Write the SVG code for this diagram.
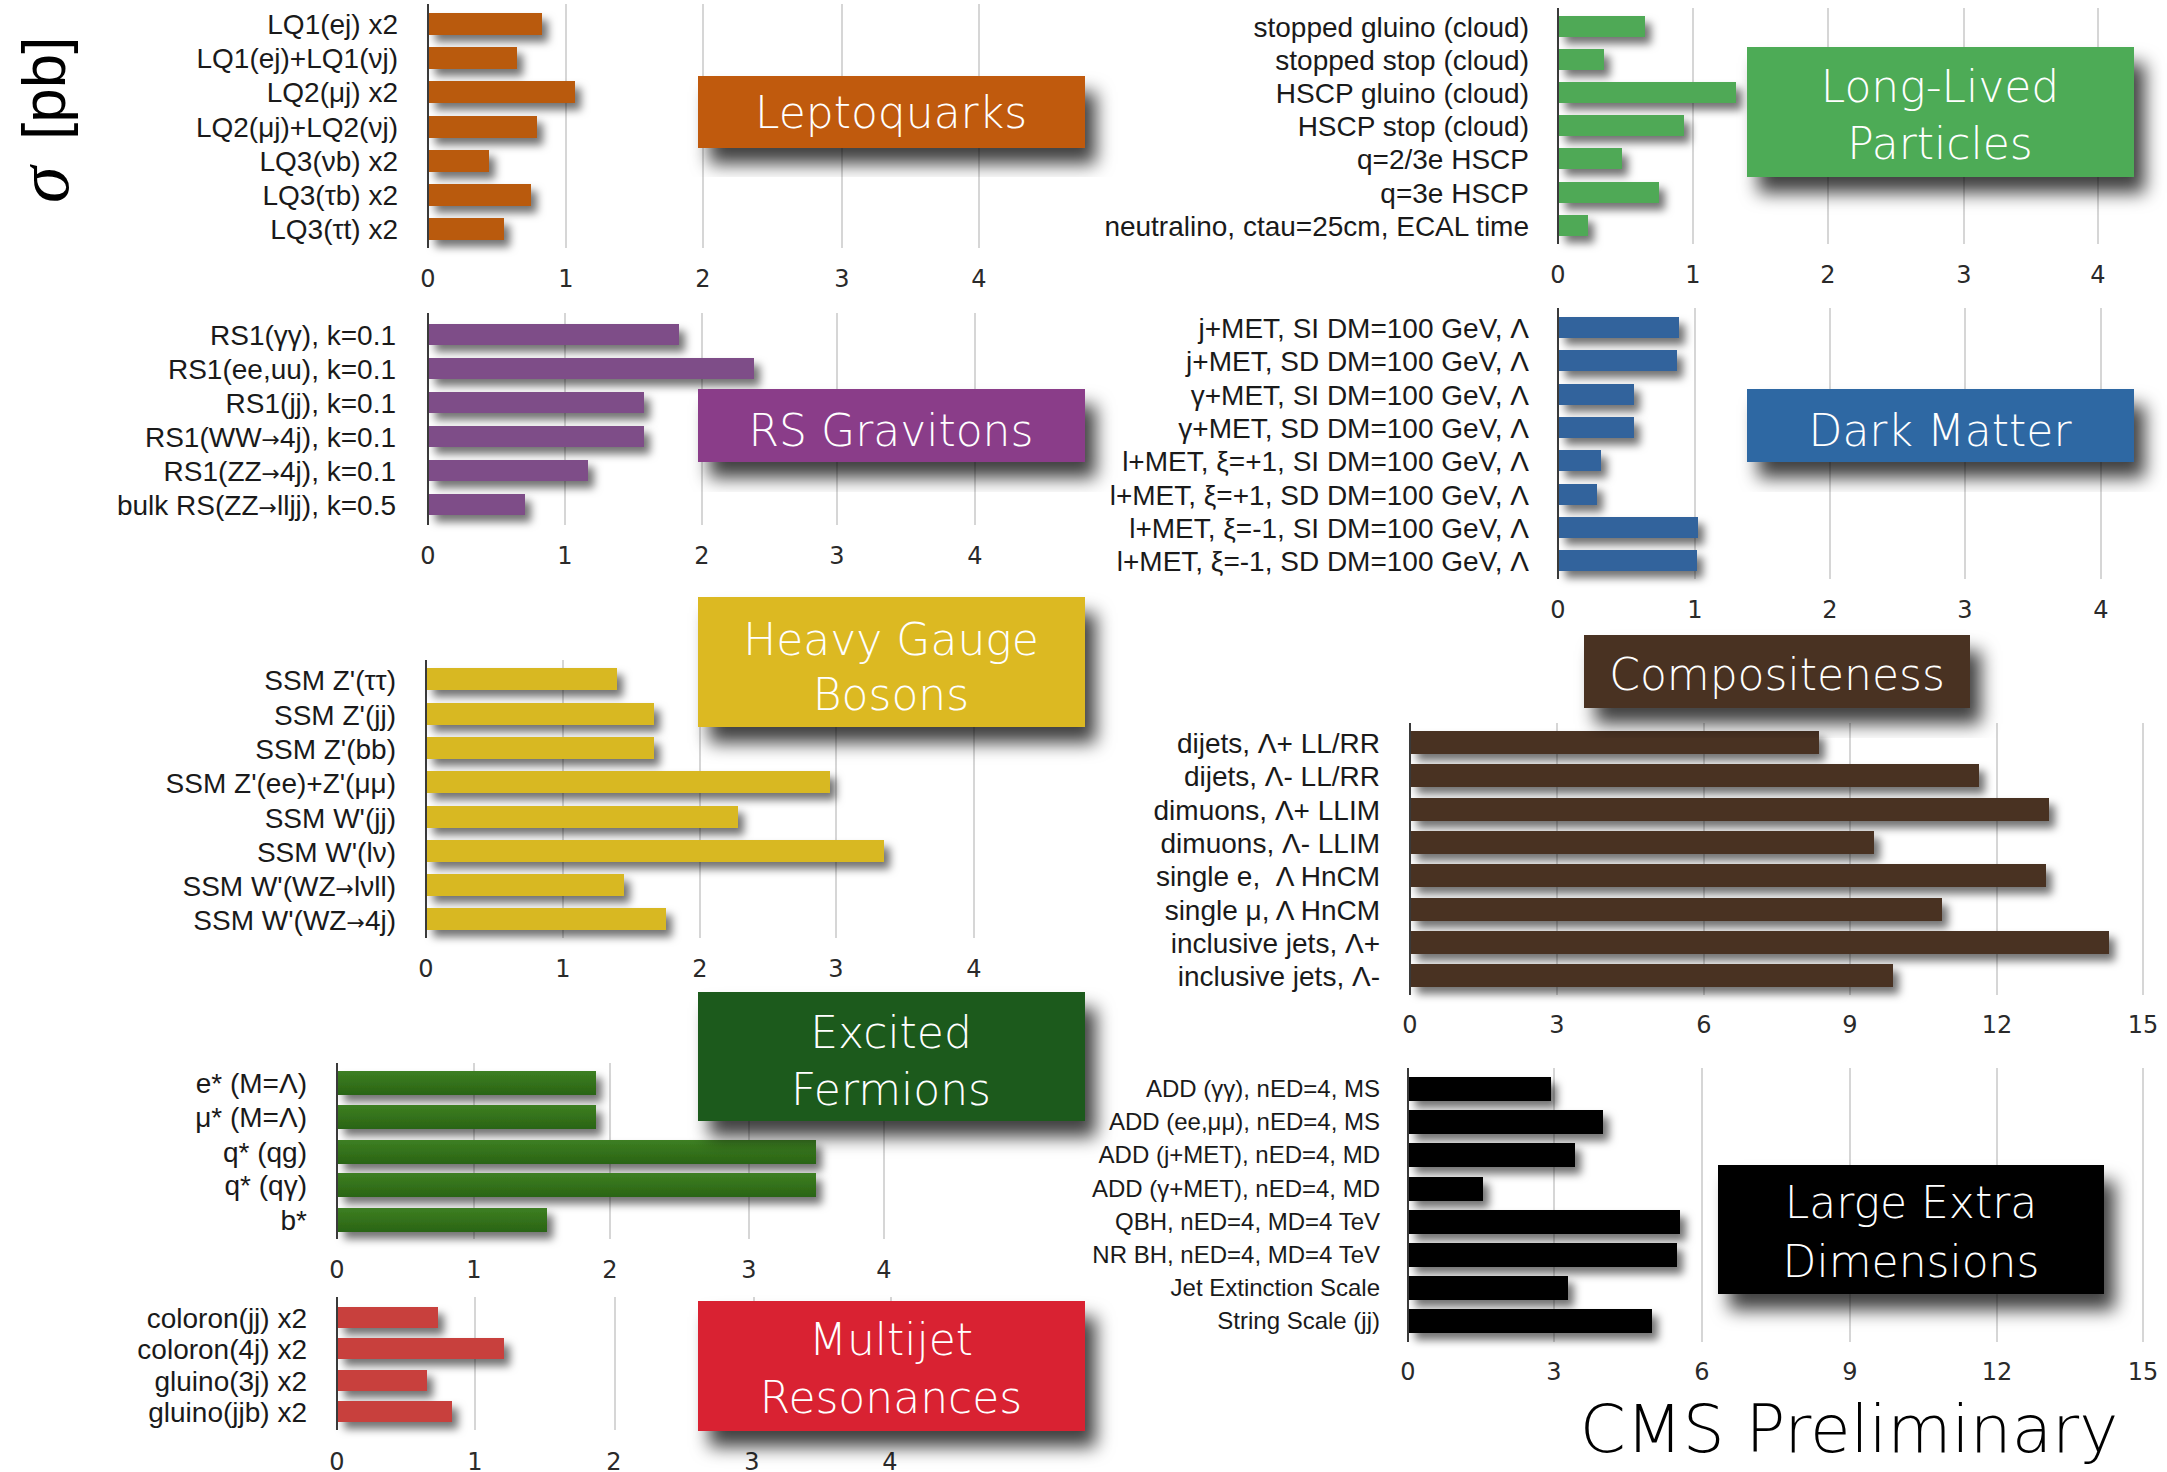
<svg xmlns="http://www.w3.org/2000/svg" width="2167" height="1472" viewBox="0 0 2167 1472">
<defs>
<style>
.lbl{font-family:'Liberation Sans',Arial,sans-serif;font-size:28px;fill:#1a1a1a;text-anchor:end}
.lbl2{font-family:'Liberation Sans',Arial,sans-serif;font-size:24px;fill:#1a1a1a;text-anchor:end}
.ar{font-family:'DejaVu Sans',sans-serif;font-size:22px}
.tick{font-family:'DejaVu Sans',sans-serif;font-size:24px;fill:#2a2a2a;text-anchor:middle}
.grid{stroke:#c9c9c9;stroke-width:1.5}
.axis{stroke:#3a3a3a;stroke-width:2}
.ttl{font-family:'DejaVu Sans',sans-serif;font-weight:300;font-size:44px;fill:#fff;text-anchor:middle}
.bar{filter:url(#bsh)}
.box{filter:url(#tsh)}
</style>
<filter id="bsh" x="-10%" y="-60%" width="200%" height="300%">
<feDropShadow dx="6" dy="7" stdDeviation="4.5" flood-color="#000" flood-opacity="0.55"/>
</filter>
<filter id="tsh" x="-10%" y="-20%" width="130%" height="160%">
<feDropShadow dx="11" dy="16" stdDeviation="9" flood-color="#000" flood-opacity="0.75"/>
</filter>
<linearGradient id="efg" x1="0" y1="0" x2="0" y2="1">
<stop offset="0" stop-color="#3d7f22"/><stop offset="1" stop-color="#2a6414"/>
</linearGradient>
</defs>
<rect width="2167" height="1472" fill="#fff"/>

<g id="ylabel">
<text transform="translate(68,203) rotate(-90)" style="font-family:'Liberation Serif',serif;font-style:italic;font-size:74px;fill:#000">σ</text>
<text transform="translate(65,140) rotate(-90)" style="font-family:'Liberation Sans',Arial,sans-serif;font-size:62px;fill:#000">[pb]</text>
</g>

<g id="leptoquarks">
<g class="grid"><line x1="566" y1="4" x2="566" y2="248"/><line x1="703" y1="4" x2="703" y2="248"/><line x1="842" y1="4" x2="842" y2="248"/><line x1="979" y1="4" x2="979" y2="248"/></g>
<g fill="#b95a0b">
<rect class="bar" x="429" y="13" width="113" height="22"/>
<rect class="bar" x="429" y="47" width="88" height="22"/>
<rect class="bar" x="429" y="81" width="146" height="22"/>
<rect class="bar" x="429" y="116" width="108" height="22"/>
<rect class="bar" x="429" y="150" width="60" height="22"/>
<rect class="bar" x="429" y="184" width="102" height="22"/>
<rect class="bar" x="429" y="218" width="75" height="22"/>
</g>
<line class="axis" x1="428" y1="4" x2="428" y2="248"/>
<text class="lbl" x="398" y="34">LQ1(ej) x2</text>
<text class="lbl" x="398" y="68">LQ1(ej)+LQ1(νj)</text>
<text class="lbl" x="398" y="102">LQ2(μj) x2</text>
<text class="lbl" x="398" y="137">LQ2(μj)+LQ2(νj)</text>
<text class="lbl" x="398" y="171">LQ3(νb) x2</text>
<text class="lbl" x="398" y="205">LQ3(τb) x2</text>
<text class="lbl" x="398" y="239">LQ3(τt) x2</text>
<text class="tick" x="428" y="287">0</text><text class="tick" x="566" y="287">1</text><text class="tick" x="703" y="287">2</text><text class="tick" x="842" y="287">3</text><text class="tick" x="979" y="287">4</text>
<rect class="box" x="698" y="76" width="387" height="72" fill="#c05a0e"/>
<text class="ttl" x="891" y="128">Leptoquarks</text>
</g>

<g id="long-lived">
<g class="grid"><line x1="1693" y1="8" x2="1693" y2="244"/><line x1="1828" y1="8" x2="1828" y2="244"/><line x1="1964" y1="8" x2="1964" y2="244"/><line x1="2098" y1="8" x2="2098" y2="244"/></g>
<g fill="#4fa957">
<rect class="bar" x="1559" y="16" width="86" height="21"/>
<rect class="bar" x="1559" y="49" width="45" height="21"/>
<rect class="bar" x="1559" y="82" width="177" height="21"/>
<rect class="bar" x="1559" y="115" width="125" height="21"/>
<rect class="bar" x="1559" y="148" width="63" height="21"/>
<rect class="bar" x="1559" y="182" width="100" height="21"/>
<rect class="bar" x="1559" y="215" width="29" height="21"/>
</g>
<line class="axis" x1="1558" y1="8" x2="1558" y2="244"/>
<text class="lbl" x="1529" y="37">stopped gluino (cloud)</text>
<text class="lbl" x="1529" y="70">stopped stop (cloud)</text>
<text class="lbl" x="1529" y="103">HSCP gluino (cloud)</text>
<text class="lbl" x="1529" y="136">HSCP stop (cloud)</text>
<text class="lbl" x="1529" y="169">q=2/3e HSCP</text>
<text class="lbl" x="1529" y="203">q=3e HSCP</text>
<text class="lbl" x="1529" y="236">neutralino, ctau=25cm, ECAL time</text>
<text class="tick" x="1558" y="283">0</text><text class="tick" x="1693" y="283">1</text><text class="tick" x="1828" y="283">2</text><text class="tick" x="1964" y="283">3</text><text class="tick" x="2098" y="283">4</text>
<rect class="box" x="1747" y="47" width="387" height="130" fill="#4dab56"/>
<text class="ttl" x="1940" y="102">Long-Lived</text>
<text class="ttl" x="1940" y="159">Particles</text>
</g>

<g id="rs-gravitons">
<g class="grid"><line x1="565" y1="313" x2="565" y2="525"/><line x1="702" y1="313" x2="702" y2="525"/><line x1="837" y1="313" x2="837" y2="525"/><line x1="975" y1="313" x2="975" y2="525"/></g>
<g fill="#7e4e88">
<rect class="bar" x="429" y="324" width="250" height="21"/>
<rect class="bar" x="429" y="358" width="325" height="21"/>
<rect class="bar" x="429" y="392" width="215" height="21"/>
<rect class="bar" x="429" y="426" width="215" height="21"/>
<rect class="bar" x="429" y="460" width="159" height="21"/>
<rect class="bar" x="429" y="494" width="96" height="21"/>
</g>
<line class="axis" x1="428" y1="313" x2="428" y2="525"/>
<text class="lbl" x="396" y="345">RS1(γγ), k=0.1</text>
<text class="lbl" x="396" y="379">RS1(ee,uu), k=0.1</text>
<text class="lbl" x="396" y="413">RS1(jj), k=0.1</text>
<text class="lbl" x="396" y="447">RS1(WW<tspan class="ar">→</tspan>4j), k=0.1</text>
<text class="lbl" x="396" y="481">RS1(ZZ<tspan class="ar">→</tspan>4j), k=0.1</text>
<text class="lbl" x="396" y="515">bulk RS(ZZ<tspan class="ar">→</tspan>lljj), k=0.5</text>
<text class="tick" x="428" y="564">0</text><text class="tick" x="565" y="564">1</text><text class="tick" x="702" y="564">2</text><text class="tick" x="837" y="564">3</text><text class="tick" x="975" y="564">4</text>
<rect class="box" x="698" y="389" width="387" height="73" fill="#8a3e89"/>
<text class="ttl" x="891" y="446">RS Gravitons</text>
</g>

<g id="dark-matter">
<g class="grid"><line x1="1695" y1="308" x2="1695" y2="579"/><line x1="1830" y1="308" x2="1830" y2="579"/><line x1="1965" y1="308" x2="1965" y2="579"/><line x1="2101" y1="308" x2="2101" y2="579"/></g>
<g fill="#33649c">
<rect class="bar" x="1559" y="317" width="120" height="21"/>
<rect class="bar" x="1559" y="350" width="118" height="21"/>
<rect class="bar" x="1559" y="384" width="75" height="21"/>
<rect class="bar" x="1559" y="417" width="75" height="21"/>
<rect class="bar" x="1559" y="450" width="42" height="21"/>
<rect class="bar" x="1559" y="484" width="38" height="21"/>
<rect class="bar" x="1559" y="517" width="139" height="21"/>
<rect class="bar" x="1559" y="550" width="138" height="21"/>
</g>
<line class="axis" x1="1558" y1="308" x2="1558" y2="579"/>
<text class="lbl" x="1529" y="338">j+MET, SI DM=100 GeV, Λ</text>
<text class="lbl" x="1529" y="371">j+MET, SD DM=100 GeV, Λ</text>
<text class="lbl" x="1529" y="405">γ+MET, SI DM=100 GeV, Λ</text>
<text class="lbl" x="1529" y="438">γ+MET, SD DM=100 GeV, Λ</text>
<text class="lbl" x="1529" y="471">l+MET, ξ=+1, SI DM=100 GeV, Λ</text>
<text class="lbl" x="1529" y="505">l+MET, ξ=+1, SD DM=100 GeV, Λ</text>
<text class="lbl" x="1529" y="538">l+MET, ξ=-1, SI DM=100 GeV, Λ</text>
<text class="lbl" x="1529" y="571">l+MET, ξ=-1, SD DM=100 GeV, Λ</text>
<text class="tick" x="1558" y="618">0</text><text class="tick" x="1695" y="618">1</text><text class="tick" x="1830" y="618">2</text><text class="tick" x="1965" y="618">3</text><text class="tick" x="2101" y="618">4</text>
<rect class="box" x="1747" y="389" width="387" height="73" fill="#2f68a3"/>
<text class="ttl" x="1940" y="446">Dark Matter</text>
</g>

<g id="heavy-gauge-bosons">
<g class="grid"><line x1="563" y1="660" x2="563" y2="938"/><line x1="700" y1="660" x2="700" y2="938"/><line x1="836" y1="660" x2="836" y2="938"/><line x1="974" y1="660" x2="974" y2="938"/></g>
<g fill="#d8b820">
<rect class="bar" x="427" y="668" width="190" height="22"/>
<rect class="bar" x="427" y="703" width="227" height="22"/>
<rect class="bar" x="427" y="737" width="227" height="22"/>
<rect class="bar" x="427" y="771" width="403" height="22"/>
<rect class="bar" x="427" y="806" width="311" height="22"/>
<rect class="bar" x="427" y="840" width="457" height="22"/>
<rect class="bar" x="427" y="874" width="197" height="22"/>
<rect class="bar" x="427" y="908" width="239" height="22"/>
</g>
<line class="axis" x1="426" y1="660" x2="426" y2="938"/>
<text class="lbl" x="396" y="690">SSM Z'(ττ)</text>
<text class="lbl" x="396" y="725">SSM Z'(jj)</text>
<text class="lbl" x="396" y="759">SSM Z'(bb)</text>
<text class="lbl" x="396" y="793">SSM Z'(ee)+Z'(μμ)</text>
<text class="lbl" x="396" y="828">SSM W'(jj)</text>
<text class="lbl" x="396" y="862">SSM W'(lν)</text>
<text class="lbl" x="396" y="896">SSM W'(WZ<tspan class="ar">→</tspan>lνll)</text>
<text class="lbl" x="396" y="930">SSM W'(WZ<tspan class="ar">→</tspan>4j)</text>
<text class="tick" x="426" y="977">0</text><text class="tick" x="563" y="977">1</text><text class="tick" x="700" y="977">2</text><text class="tick" x="836" y="977">3</text><text class="tick" x="974" y="977">4</text>
<rect class="box" x="698" y="597" width="387" height="130" fill="#dcb920"/>
<text class="ttl" x="891" y="655">Heavy Gauge</text>
<text class="ttl" x="891" y="710">Bosons</text>
</g>

<g id="compositeness">
<g class="grid"><line x1="1557" y1="723" x2="1557" y2="995"/><line x1="1704" y1="723" x2="1704" y2="995"/><line x1="1850" y1="723" x2="1850" y2="995"/><line x1="1997" y1="723" x2="1997" y2="995"/><line x1="2143" y1="723" x2="2143" y2="995"/></g>
<g fill="#4a3020">
<rect class="bar" x="1411" y="731" width="408" height="23"/>
<rect class="bar" x="1411" y="764" width="568" height="23"/>
<rect class="bar" x="1411" y="798" width="638" height="23"/>
<rect class="bar" x="1411" y="831" width="463" height="23"/>
<rect class="bar" x="1411" y="864" width="635" height="23"/>
<rect class="bar" x="1411" y="898" width="531" height="23"/>
<rect class="bar" x="1411" y="931" width="698" height="23"/>
<rect class="bar" x="1411" y="964" width="482" height="23"/>
</g>
<line class="axis" x1="1410" y1="723" x2="1410" y2="995"/>
<text class="lbl" x="1380" y="753">dijets, Λ+ LL/RR</text>
<text class="lbl" x="1380" y="786">dijets, Λ- LL/RR</text>
<text class="lbl" x="1380" y="820">dimuons, Λ+ LLIM</text>
<text class="lbl" x="1380" y="853">dimuons, Λ- LLIM</text>
<text class="lbl" x="1380" y="886" xml:space="preserve">single e,  Λ HnCM</text>
<text class="lbl" x="1380" y="920">single μ, Λ HnCM</text>
<text class="lbl" x="1380" y="953">inclusive jets, Λ+</text>
<text class="lbl" x="1380" y="986">inclusive jets, Λ-</text>
<text class="tick" x="1410" y="1033">0</text><text class="tick" x="1557" y="1033">3</text><text class="tick" x="1704" y="1033">6</text><text class="tick" x="1850" y="1033">9</text><text class="tick" x="1997" y="1033">12</text><text class="tick" x="2143" y="1033">15</text>
<rect class="box" x="1584" y="635" width="386" height="73" fill="#4a3020"/>
<text class="ttl" x="1777" y="690">Compositeness</text>
</g>

<g id="excited-fermions">
<g class="grid"><line x1="474" y1="1063" x2="474" y2="1239"/><line x1="610" y1="1063" x2="610" y2="1239"/><line x1="749" y1="1063" x2="749" y2="1239"/><line x1="884" y1="1063" x2="884" y2="1239"/></g>
<g fill="url(#efg)">
<rect class="bar" x="338" y="1071" width="258" height="24"/>
<rect class="bar" x="338" y="1105" width="258" height="24"/>
<rect class="bar" x="338" y="1140" width="478" height="24"/>
<rect class="bar" x="338" y="1173" width="478" height="24"/>
<rect class="bar" x="338" y="1208" width="209" height="24"/>
</g>
<line class="axis" x1="337" y1="1063" x2="337" y2="1239"/>
<text class="lbl" x="307" y="1093">e* (M=Λ)</text>
<text class="lbl" x="307" y="1127">μ* (M=Λ)</text>
<text class="lbl" x="307" y="1162">q* (qg)</text>
<text class="lbl" x="307" y="1195">q* (qγ)</text>
<text class="lbl" x="307" y="1230">b*</text>
<text class="tick" x="337" y="1278">0</text><text class="tick" x="474" y="1278">1</text><text class="tick" x="610" y="1278">2</text><text class="tick" x="749" y="1278">3</text><text class="tick" x="884" y="1278">4</text>
<rect class="box" x="698" y="992" width="387" height="129" fill="#1e5a1a"/>
<text class="ttl" x="891" y="1048">Excited</text>
<text class="ttl" x="891" y="1105">Fermions</text>
</g>

<g id="multijet-resonances">
<g class="grid"><line x1="475" y1="1297" x2="475" y2="1430"/><line x1="615" y1="1297" x2="615" y2="1430"/><line x1="754" y1="1297" x2="754" y2="1430"/><line x1="891" y1="1297" x2="891" y2="1430"/></g>
<g fill="#c8403d">
<rect class="bar" x="338" y="1307" width="100" height="21"/>
<rect class="bar" x="338" y="1338" width="166" height="21"/>
<rect class="bar" x="338" y="1370" width="89" height="21"/>
<rect class="bar" x="338" y="1401" width="114" height="21"/>
</g>
<line class="axis" x1="337" y1="1297" x2="337" y2="1430"/>
<text class="lbl" x="307" y="1328">coloron(jj) x2</text>
<text class="lbl" x="307" y="1359">coloron(4j) x2</text>
<text class="lbl" x="307" y="1391">gluino(3j) x2</text>
<text class="lbl" x="307" y="1422">gluino(jjb) x2</text>
<text class="tick" x="337" y="1470">0</text><text class="tick" x="475" y="1470">1</text><text class="tick" x="614" y="1470">2</text><text class="tick" x="752" y="1470">3</text><text class="tick" x="890" y="1470">4</text>
<rect class="box" x="698" y="1301" width="387" height="130" fill="#d92231"/>
<text class="ttl" x="891" y="1355">Multijet</text>
<text class="ttl" x="891" y="1413">Resonances</text>
</g>

<g id="large-extra-dimensions">
<g class="grid"><line x1="1554" y1="1068" x2="1554" y2="1342"/><line x1="1702" y1="1068" x2="1702" y2="1342"/><line x1="1850" y1="1068" x2="1850" y2="1342"/><line x1="1997" y1="1068" x2="1997" y2="1342"/><line x1="2143" y1="1068" x2="2143" y2="1342"/></g>
<g fill="#000">
<rect class="bar" x="1409" y="1077" width="142" height="24"/>
<rect class="bar" x="1409" y="1110" width="194" height="24"/>
<rect class="bar" x="1409" y="1143" width="166" height="24"/>
<rect class="bar" x="1409" y="1177" width="74" height="24"/>
<rect class="bar" x="1409" y="1210" width="271" height="24"/>
<rect class="bar" x="1409" y="1243" width="268" height="24"/>
<rect class="bar" x="1409" y="1276" width="159" height="24"/>
<rect class="bar" x="1409" y="1309" width="243" height="24"/>
</g>
<line class="axis" x1="1408" y1="1068" x2="1408" y2="1342"/>
<text class="lbl2" x="1380" y="1097">ADD (γγ), nED=4, MS</text>
<text class="lbl2" x="1380" y="1130">ADD (ee,μμ), nED=4, MS</text>
<text class="lbl2" x="1380" y="1163">ADD (j+MET), nED=4, MD</text>
<text class="lbl2" x="1380" y="1197">ADD (γ+MET), nED=4, MD</text>
<text class="lbl2" x="1380" y="1230">QBH, nED=4, MD=4 TeV</text>
<text class="lbl2" x="1380" y="1263">NR BH, nED=4, MD=4 TeV</text>
<text class="lbl2" x="1380" y="1296">Jet Extinction Scale</text>
<text class="lbl2" x="1380" y="1329">String Scale (jj)</text>
<text class="tick" x="1408" y="1380">0</text><text class="tick" x="1554" y="1380">3</text><text class="tick" x="1702" y="1380">6</text><text class="tick" x="1850" y="1380">9</text><text class="tick" x="1997" y="1380">12</text><text class="tick" x="2143" y="1380">15</text>
<rect class="box" x="1718" y="1165" width="386" height="129" fill="#000"/>
<text class="ttl" x="1911" y="1218">Large Extra</text>
<text class="ttl" x="1911" y="1277">Dimensions</text>
</g>

<g id="cms-preliminary">
<text x="1849" y="1452" style="font-family:'DejaVu Sans',sans-serif;font-weight:300;font-size:66px;fill:#000;text-anchor:middle">CMS Preliminary</text>
</g>
</svg>
